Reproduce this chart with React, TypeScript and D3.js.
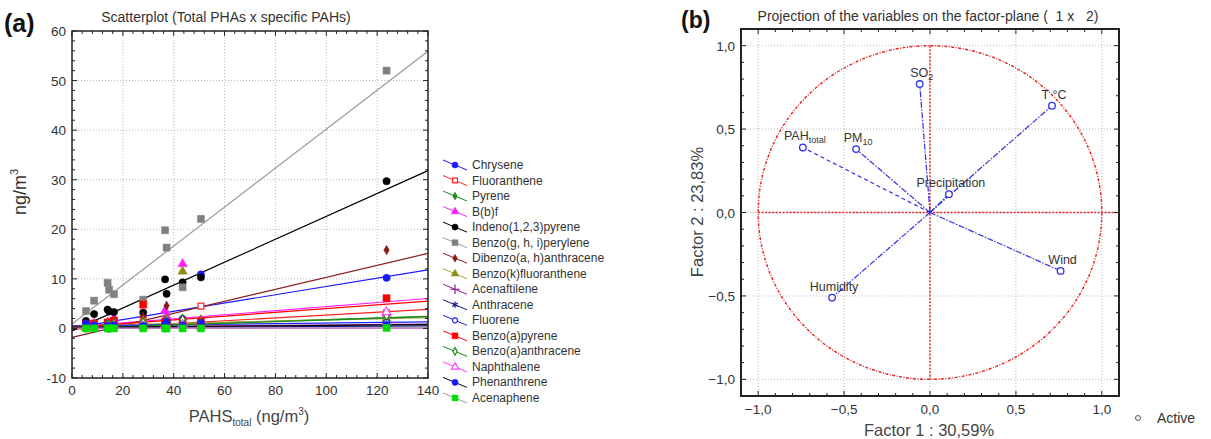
import React, { useEffect, useRef } from 'react';
import * as d3 from 'd3';

// Samples (total PAHs, ng/m3)
const sampleX = [5.5, 8.7, 14.0, 14.6, 16.5, 28.0, 36.6, 37.2, 43.5, 50.7, 123.7];

const seriesNames = [
  'Chrysene', 'Fluoranthene', 'Pyrene', 'B(b)f', 'Indeno(1,2,3)pyrene',
  'Benzo(g, h, i)perylene', 'Dibenzo(a, h)anthracene', 'Benzo(k)fluoranthene',
  'Acenaftilene', 'Anthracene', 'Fluorene', 'Benzo(a)pyrene',
  'Benzo(a)anthracene', 'Naphthalene', 'Phenanthrene', 'Acenaphene',
];

const seriesValues: (number | null)[][] = [
  [1.3, 0.9, 0.8, 0.7, 1.0, 1.1, 1.0, 1.5, 1.9, 10.9, 10.2],
  [0.6, 0.5, 0.7, 0.6, 0.9, 1.9, 1.2, 1.4, 1.6, 4.5, 3.1],
  [0.4, 0.5, 0.6, 0.5, 0.8, 1.1, 0.9, 1.2, 1.7, 1.0, 2.2],
  [0.8, 1.0, 1.2, 1.1, 2.0, 1.5, 3.6, 2.5, 13.0, 1.2, 3.0],
  [1.5, 2.9, 3.8, 3.4, 3.3, 3.2, 9.9, 7.0, 9.3, 10.3, 29.7],
  [3.5, 5.6, 9.2, 7.8, 6.9, 5.8, 19.8, 16.3, 8.3, 22.1, 52.0],
  [0.5, 0.7, 0.9, 0.8, 1.2, 2.3, 1.6, 4.6, 2.0, 1.8, 15.8],
  [0.6, 0.8, 1.0, 0.9, 1.2, 1.4, 1.3, 1.7, 11.5, 1.5, 2.0],
  [0.3, 0.2, 0.3, 0.2, 0.4, 0.5, 0.3, 0.6, 0.4, 0.5, 0.8],
  [0.2, 0.1, 0.2, 0.2, 0.3, 0.4, 0.2, 0.5, 0.3, 0.4, 0.6],
  [0.4, 0.3, 0.5, 0.4, 0.5, 0.7, 0.6, 0.8, 0.6, 0.9, 1.2],
  [0.9, 1.0, 1.2, 1.0, 1.6, 4.8, 1.3, 1.2, 1.5, 1.4, 6.1],
  [0.5, 0.6, 0.8, 0.6, 1.0, 1.2, 0.9, 1.4, 1.8, 1.1, 2.6],
  [0.2, 0.3, 0.2, 0.3, 0.5, 0.4, 0.6, 0.5, 0.7, 0.4, 3.3],
  [1.0, 0.6, 0.5, 0.4, 0.6, 0.5, 0.7, 1.3, 0.6, 1.1, 0.7],
  [0.0, 0.0, 0.0, 0.0, 0.0, 0.0, 0.0, 0.0, 0.0, 0.0, 0.1],
];

// Linear fits
const fitIntercepts = [0.1, -0.2, 0.2, 0.3, -0.5, 0.9, -1.8, 0.5, 0.3, 0.1, 0.5, 0.2, 0.0, 0.05, 0.2, 0.05];
const fitSlopes = [0.0837, 0.029, 0.016, 0.041, 0.231, 0.393, 0.121, 0.012, 0.004, 0.003, 0.006, 0.038, 0.017, 0.0, 0.004, 0.0005];

const markerColors = [
  '#1a1aff', '#ff2020', '#1a8c1a', '#ff20ff', '#000000', '#808080', '#8b1a1a', '#8c8c1a',
  '#8c1a8c', '#1a1a8c', '#2020ff', '#ff0000', '#1a8c1a', '#ff40ff', '#1a1aff', '#00e000',
];
const lineColors = [
  '#1a1aff', '#ff2020', '#1a8c1a', '#ff20ff', '#000000', '#999999', '#8b1a1a', '#a8a040',
  '#8c1a8c', '#1a1a8c', '#2020ff', '#ff0000', '#1a8c1a', '#ff40ff', '#000000', '#999999',
];
const markerTypes = [
  'circle', 'square-open', 'diamond', 'triangle', 'circle', 'square', 'diamond', 'triangle',
  'plus', 'star', 'circle-open', 'square', 'diamond-open', 'triangle-open', 'circle', 'square',
];

// Factor plane
const varMain = ['SO', 'T °C', 'PAH', 'PM', 'Precipitation', 'Wind', 'Humidity'];
const varSub = ['2', '', 'total', '10', '', '', ''];
const factor1 = [-0.06, 0.71, -0.74, -0.43, 0.11, 0.76, -0.57];
const factor2 = [0.77, 0.64, 0.39, 0.38, 0.11, -0.35, -0.51];

const FONT = '"Liberation Sans", Arial, sans-serif';

const drawMarker = (g: any, type: string, x: number, y: number, color: string, k = 1) => {
  const open = type.endsWith('-open');
  const base = type.replace('-open', '');
  let sym: any = d3.symbolCircle;
  let size = 40;
  if (base === 'square') { sym = d3.symbolSquare; size = open ? 34 : 50; }
  if (base === 'diamond') { sym = d3.symbolDiamond; size = open ? 24 : 26; }
  if (base === 'triangle') { sym = d3.symbolTriangle; size = open ? 34 : 38; }
  if (base === 'circle') { sym = d3.symbolCircle; size = open ? 28 : 42; }
  if (base === 'plus') { sym = d3.symbolPlus; size = 44; }
  if (base === 'star') { sym = d3.symbolAsterisk; size = 44; }
  const stroked = base === 'plus' || base === 'star';
  g.append('path')
    .attr('d', d3.symbol().type(sym).size(size * k)())
    .attr('transform', `translate(${x},${y})`)
    .attr('fill', stroked ? 'none' : open ? '#fff' : color)
    .attr('stroke', color)
    .attr('stroke-width', open || stroked ? 1.2 : 0.5);
};

const App = () => {
  const ref = useRef<SVGSVGElement>(null);

  useEffect(() => {
    const svg = d3.select(ref.current);
    svg.selectAll('*').remove();

    // ---------------- (a) scatterplot ----------------
    const x = d3.scaleLinear().domain([0, 140]).range([72, 428]);
    const y = d3.scaleLinear().domain([-10, 60]).range([378, 31]);
    const a = svg.append('g');

    // grid
    a.selectAll('.gx').data(d3.range(20, 140, 20)).enter().append('line')
      .attr('x1', (d) => x(d)).attr('x2', (d) => x(d)).attr('y1', 31).attr('y2', 378)
      .attr('stroke', '#bbb').attr('stroke-dasharray', '1,2');
    a.selectAll('.gy').data(d3.range(0, 60, 10)).enter().append('line')
      .attr('y1', (d) => y(d)).attr('y2', (d) => y(d)).attr('x1', 72).attr('x2', 428)
      .attr('stroke', '#bbb').attr('stroke-dasharray', '1,2');

    // fit lines
    seriesNames.forEach((_, i) => {
      a.append('line')
        .attr('x1', x(0)).attr('y1', y(fitIntercepts[i]))
        .attr('x2', x(140)).attr('y2', y(fitIntercepts[i] + fitSlopes[i] * 140))
        .attr('stroke', lineColors[i]).attr('stroke-width', 1.2);
    });

    // points
    seriesNames.forEach((_, i) => {
      seriesValues[i].forEach((v, j) => {
        if (v === null) return;
        drawMarker(a, markerTypes[i], x(sampleX[j]), y(v), markerColors[i]);
      });
    });

    // frame + ticks
    a.append('rect').attr('x', 72).attr('y', 31).attr('width', 356).attr('height', 347)
      .attr('fill', 'none').attr('stroke', '#222').attr('stroke-width', 1.5);
    const xt = d3.range(0, 141, 4);
    const yt = d3.range(-10, 61, 2);
    a.selectAll('.tx').data(xt).enter().append('path')
      .attr('d', (d) => {
        const len = d % 20 === 0 ? 5 : 3;
        return `M${x(d)},378v${-len}M${x(d)},31v${len}`;
      })
      .attr('stroke', '#222').attr('stroke-width', 1);
    a.selectAll('.ty').data(yt).enter().append('path')
      .attr('d', (d) => {
        const len = d % 10 === 0 ? 5 : 3;
        return `M72,${y(d)}h${len}M428,${y(d)}h${-len}`;
      })
      .attr('stroke', '#222').attr('stroke-width', 1);

    a.selectAll('.lx').data(d3.range(0, 141, 20)).enter().append('text')
      .attr('x', (d) => x(d)).attr('y', 395).attr('text-anchor', 'middle')
      .attr('font-size', 13.5).attr('fill', '#333').attr('font-family', FONT)
      .text((d) => d);
    a.selectAll('.ly').data(d3.range(-10, 61, 10)).enter().append('text')
      .attr('x', 66).attr('y', (d) => y(d) + 5).attr('text-anchor', 'end')
      .attr('font-size', 13.5).attr('fill', '#333').attr('font-family', FONT)
      .text((d) => d);

    // labels
    a.append('text').attr('x', 226).attr('y', 22).attr('text-anchor', 'middle')
      .attr('font-size', 14).attr('fill', '#333').attr('font-family', FONT)
      .text('Scatterplot (Total PHAs x specific PAHs)');
    a.append('text').attr('x', 4).attr('y', 32)
      .attr('font-size', 25).attr('font-weight', 'bold').attr('fill', '#111').attr('font-family', FONT)
      .text('(a)');
    const xl = a.append('text').attr('x', 249).attr('y', 422).attr('text-anchor', 'middle')
      .attr('font-size', 16.5).attr('fill', '#444').attr('font-family', FONT);
    xl.append('tspan').text('PAHS');
    xl.append('tspan').attr('font-size', 10).attr('dy', 4).text('total');
    xl.append('tspan').attr('dy', -4).text(' (ng/m');
    xl.append('tspan').attr('font-size', 10).attr('dy', -7).text('3');
    xl.append('tspan').attr('dy', 7).text(')');
    const yl = a.append('text').attr('transform', 'translate(26,192) rotate(-90)')
      .attr('text-anchor', 'middle').attr('font-size', 18).attr('fill', '#333').attr('font-family', FONT);
    yl.append('tspan').text('ng/m');
    yl.append('tspan').attr('font-size', 11).attr('dy', -8).text('3');

    // legend
    seriesNames.forEach((name, i) => {
      const cy = 165 + i * 15.53;
      a.append('line').attr('x1', 443).attr('y1', cy - 5).attr('x2', 467).attr('y2', cy + 5)
        .attr('stroke', lineColors[i]).attr('stroke-width', 1);
      drawMarker(a, markerTypes[i], 455, cy, markerColors[i], 0.7);
      a.append('text').attr('x', 472).attr('y', cy + 4)
        .attr('font-size', 12).attr('fill', '#333').attr('font-family', FONT).text(name);
    });

    // ---------------- (b) factor plane ----------------
    const fx = d3.scaleLinear().domain([-1.1, 1.1]).range([741, 1119]);
    const fy = d3.scaleLinear().domain([-1.1, 1.1]).range([396, 29]);
    const b = svg.append('g');
    const fmt = (d: number) => (Math.abs(d) < 1e-9 ? '0,0' : d3.format('.1f')(d).replace('.', ','));
    const majors = [-1, -0.5, 0, 0.5, 1];

    b.selectAll('.gx').data(majors).enter().append('line')
      .attr('x1', (d) => fx(d)).attr('x2', (d) => fx(d)).attr('y1', 29).attr('y2', 396)
      .attr('stroke', '#bbb').attr('stroke-dasharray', '1,2');
    b.selectAll('.gy').data(majors).enter().append('line')
      .attr('y1', (d) => fy(d)).attr('y2', (d) => fy(d)).attr('x1', 741).attr('x2', 1119)
      .attr('stroke', '#bbb').attr('stroke-dasharray', '1,2');

    // unit circle + axes in red
    b.append('ellipse').attr('cx', fx(0)).attr('cy', fy(0))
      .attr('rx', fx(1) - fx(0)).attr('ry', fy(0) - fy(1))
      .attr('fill', 'none').attr('stroke', '#e82020').attr('stroke-width', 1.4)
      .attr('stroke-dasharray', '3,1.5,1,1.5');
    b.append('line').attr('x1', fx(-1)).attr('x2', fx(1.1)).attr('y1', fy(0)).attr('y2', fy(0))
      .attr('stroke', '#e82020').attr('stroke-width', 1.4).attr('stroke-dasharray', '2,1.5');
    b.append('line').attr('x1', fx(0)).attr('x2', fx(0)).attr('y1', fy(1)).attr('y2', fy(-1))
      .attr('stroke', '#e82020').attr('stroke-width', 1.4).attr('stroke-dasharray', '2,1.5');

    // vectors
    varMain.forEach((name, i) => {
      const px = fx(factor1[i]);
      const py = fy(factor2[i]);
      b.append('line').attr('x1', fx(0)).attr('y1', fy(0)).attr('x2', px).attr('y2', py)
        .attr('stroke', '#3030e8').attr('stroke-width', 1.2)
        .attr('stroke-dasharray', name === 'PAH' ? '4,3' : '6,1.5,1.5,1.5');
      b.append('circle').attr('cx', px).attr('cy', py).attr('r', 3.3)
        .attr('fill', '#fff').attr('stroke', '#3030e8').attr('stroke-width', 1.3);
      const t = b.append('text').attr('x', px + 2).attr('y', py - 7).attr('text-anchor', 'middle')
        .attr('font-size', 12.5).attr('fill', '#333').attr('font-family', FONT);
      t.append('tspan').text(name);
      if (varSub[i]) {
        t.append('tspan').attr('font-size', 9).attr('dy', 3).text(varSub[i]);
      }
    });

    // frame + ticks
    b.append('rect').attr('x', 741).attr('y', 29).attr('width', 378).attr('height', 367)
      .attr('fill', 'none').attr('stroke', '#222').attr('stroke-width', 2);
    const minors = d3.range(-11, 12).map((d) => d / 10);
    b.selectAll('.tx').data(minors).enter().append('path')
      .attr('d', (d) => {
        const len = Math.abs(d * 2 - Math.round(d * 2)) < 1e-9 ? 5 : 3;
        return `M${fx(d)},396v${-len}M${fx(d)},29v${len}`;
      })
      .attr('stroke', '#222');
    b.selectAll('.ty').data(minors).enter().append('path')
      .attr('d', (d) => {
        const len = Math.abs(d * 2 - Math.round(d * 2)) < 1e-9 ? 5 : 3;
        return `M741,${fy(d)}h${len}M1119,${fy(d)}h${-len}`;
      })
      .attr('stroke', '#222');

    b.selectAll('.lx').data(majors).enter().append('text')
      .attr('x', (d) => fx(d)).attr('y', 414).attr('text-anchor', 'middle')
      .attr('font-size', 13.5).attr('fill', '#333').attr('font-family', FONT).text(fmt);
    b.selectAll('.ly').data(majors).enter().append('text')
      .attr('x', 735).attr('y', (d) => fy(d) + 5).attr('text-anchor', 'end')
      .attr('font-size', 13.5).attr('fill', '#333').attr('font-family', FONT).text(fmt);

    b.append('text').attr('x', 928).attr('y', 21).attr('text-anchor', 'middle')
      .attr('font-size', 14).attr('fill', '#333').attr('font-family', FONT)
      .style('white-space', 'pre')
      .text('Projection of the variables on the factor-plane (  1 x   2)');
    b.append('text').attr('x', 681).attr('y', 28)
      .attr('font-size', 23).attr('font-weight', 'bold').attr('fill', '#111').attr('font-family', FONT)
      .text('(b)');
    b.append('text').attr('x', 929).attr('y', 436).attr('text-anchor', 'middle')
      .attr('font-size', 16.5).attr('fill', '#444').attr('font-family', FONT).text('Factor 1 : 30,59%');
    b.append('text').attr('transform', 'translate(703,212) rotate(-90)').attr('text-anchor', 'middle')
      .attr('font-size', 16.5).attr('fill', '#444').attr('font-family', FONT).text('Factor 2 : 23,83%');
    b.append('circle').attr('cx', 1138).attr('cy', 418).attr('r', 2.5)
      .attr('fill', 'none').attr('stroke', '#555').attr('stroke-width', 1);
    b.append('text').attr('x', 1157).attr('y', 423)
      .attr('font-size', 14).attr('fill', '#333').attr('font-family', FONT).text('Active');
  }, []);

  return (
    <svg
      ref={ref}
      width={1211}
      height={439}
      style={{ position: 'absolute', left: 0, top: 0, background: '#fff' }}
    />
  );
};

export default App;
